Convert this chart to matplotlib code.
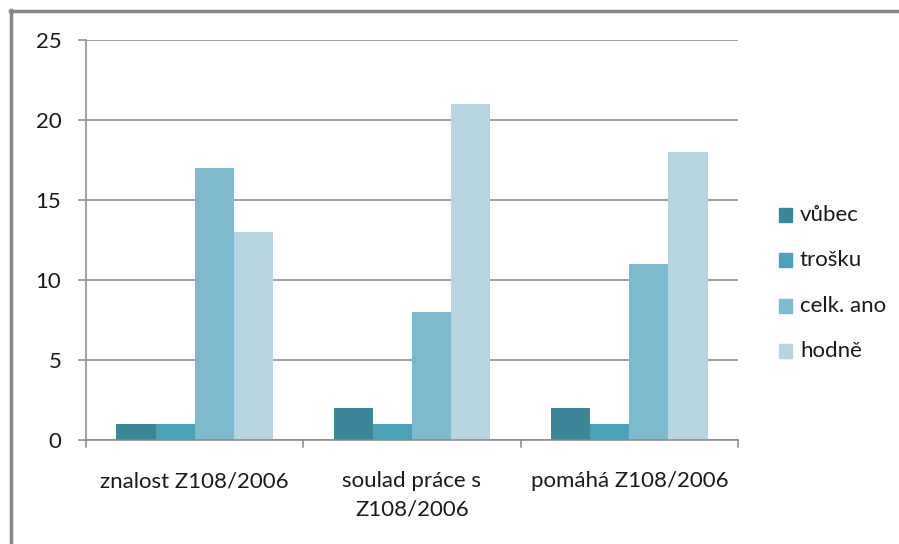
import matplotlib
matplotlib.use("Agg")
import matplotlib.pyplot as plt
import numpy as np
from matplotlib.lines import Line2D

categories = ["znalost Z108/2006", "soulad práce s\nZ108/2006", "pomáhá Z108/2006"]
series_names = ["vůbec", "trošku", "celk. ano", "hodně"]
vubec = [1, 2, 2]
trosku = [1, 1, 1]
celk_ano = [17, 8, 11]
hodne = [13, 21, 18]
y_ticks = [0, 5, 10, 15, 20, 25]

colors = ["#3B8699", "#4AA2BA", "#7EBACE", "#B7D5E0"]
grid_color = "#888888"
text_color = "#1a1a1a"
fs = 16
lw = 1.1

plt.rcParams["font.family"] = ["Lato", "DejaVu Sans"]

W, H = 899, 544
fig = plt.figure(figsize=(W / 100, H / 100), dpi=100)

def fx(px):
    return px / W

def fy(py):
    return 1 - py / H

ax = fig.add_axes([fx(86), fy(440), fx(738) - fx(86), fy(39.5) - fy(440)])

x = np.arange(len(categories))
bw = 0.18
values = [vubec, trosku, celk_ano, hodne]
for i, (vals, c, name) in enumerate(zip(values, colors, series_names)):
    ax.bar(x + (i - 1.5) * bw, vals, width=bw, color=c, label=name, zorder=3, linewidth=0)

ax.set_xlim(-0.5, len(categories) - 0.5)
ax.set_ylim(0, 25)
ax.set_yticks(y_ticks)
ax.set_yticklabels([str(t) for t in y_ticks], fontsize=fs, color=text_color)
ax.yaxis.grid(True, color=grid_color, linewidth=lw, zorder=0)
ax.tick_params(axis="y", length=5.8, width=lw, color=grid_color, pad=12)

ax.set_xticks([])
for b in np.arange(len(categories) + 1) - 0.5:
    ax.plot([b, b], [0, -0.45], color=grid_color, lw=lw, clip_on=False, zorder=4)
for xi, lab in zip(x, categories):
    ax.text(xi, -1.95, lab, ha="center", va="top", fontsize=fs, color=text_color,
            linespacing=1.5)

for side in ["top", "right"]:
    ax.spines[side].set_visible(False)
ax.spines["left"].set_color(grid_color)
ax.spines["left"].set_linewidth(lw)
ax.spines["bottom"].set_color(grid_color)
ax.spines["bottom"].set_linewidth(lw)
ax.spines["bottom"].set_zorder(5)

# legend
for i, (name, c) in enumerate(zip(series_names, colors)):
    ycen = 215 + i * 45.3
    fig.patches.append(plt.Rectangle((fx(779), fy(ycen + 7)), fx(13), fy(0) - fy(14),
                                     transform=fig.transFigure, color=c, figure=fig))
    fig.text(fx(800), fy(ycen), name, ha="left", va="center", fontsize=fs, color=text_color)

# frame lines along top and left
fig.add_artist(Line2D([fx(10), 1], [fy(10.5), fy(10.5)], transform=fig.transFigure,
                      color="#868686", lw=2.5))
fig.add_artist(Line2D([fx(10.5), fx(10.5)], [fy(9.5), 0], transform=fig.transFigure,
                      color="#868686", lw=2.5))

fig.savefig("out.png", dpi=100)
